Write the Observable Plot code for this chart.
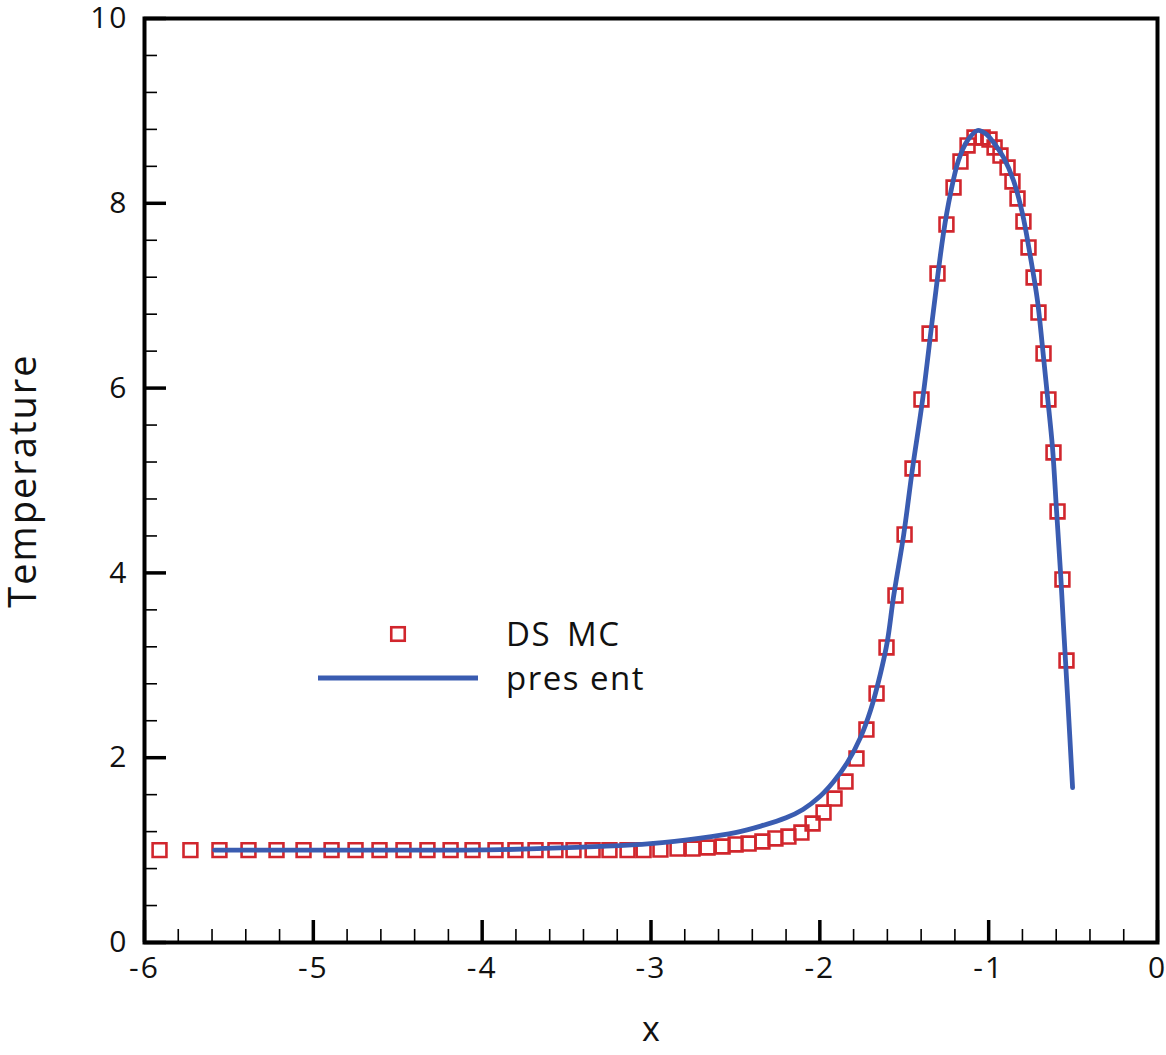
<!DOCTYPE html>
<html>
<head>
<meta charset="utf-8">
<script src="https://cdn.jsdelivr.net/npm/d3@7"></script>
<script src="https://cdn.jsdelivr.net/npm/@observablehq/plot@0.6"></script>
<style>
  html, body { margin: 0; padding: 0; background: #fff; }
  #chart svg { display: block; overflow: visible; font-family: "Open Sans", sans-serif; }
</style>
</head>
<body>
<div id="chart"></div>
<script>
// DSMC temperature samples (symbols)
const dsmcX = [
  -5.911, -5.728, -5.556, -5.384, -5.218, -5.058, -4.892, -4.750, -4.608, -4.466,
  -4.324, -4.187, -4.057, -3.921, -3.803, -3.684, -3.566, -3.459, -3.346, -3.246,
  -3.139, -3.044, -2.944, -2.843, -2.754, -2.665, -2.576, -2.499, -2.422, -2.340,
  -2.263, -2.186, -2.109, -2.043, -1.978, -1.913, -1.848, -1.783, -1.724, -1.664,
  -1.605, -1.552, -1.498, -1.451, -1.398, -1.350, -1.303, -1.250, -1.208, -1.167,
  -1.125, -1.084, -1.036, -0.995, -0.965, -0.930, -0.888, -0.859, -0.829, -0.794,
  -0.764, -0.734, -0.705, -0.675, -0.646, -0.616, -0.592, -0.563, -0.539
];
const dsmcT = [
  1.00, 1.00, 1.00, 1.00, 1.00, 1.00, 1.00, 1.00, 1.00, 1.00,
  1.00, 1.00, 1.00, 1.00, 1.00, 1.00, 1.00, 1.00, 1.00, 1.00,
  1.00, 1.00, 1.006, 1.017, 1.017, 1.028, 1.039, 1.061, 1.071, 1.093,
  1.126, 1.147, 1.190, 1.288, 1.407, 1.558, 1.742, 1.991, 2.305, 2.695,
  3.193, 3.755, 4.416, 5.130, 5.877, 6.591, 7.240, 7.771, 8.171, 8.452,
  8.626, 8.712, 8.712, 8.690, 8.604, 8.517, 8.387, 8.236, 8.052, 7.803,
  7.522, 7.197, 6.818, 6.374, 5.877, 5.303, 4.665, 3.929, 3.052
];

// present method (solid line)
const presentX = [
  -5.585, -5.076, -4.484, -3.891, -3.299, -3.003, -2.707, -2.500, -2.350, -2.200,
  -2.100, -2.000, -1.919, -1.836, -1.759, -1.700, -1.641, -1.600, -1.564, -1.504,
  -1.451, -1.392, -1.327, -1.268, -1.226, -1.179, -1.125, -1.066, -1.019, -0.971,
  -0.912, -0.853, -0.800, -0.752, -0.711, -0.681, -0.651, -0.622, -0.598, -0.574,
  -0.557, -0.533, -0.503
];
const presentT = [
  1.00, 1.00, 1.00, 1.005, 1.04, 1.07, 1.13, 1.19, 1.26, 1.35,
  1.44, 1.58, 1.74, 1.95, 2.22, 2.51, 2.91, 3.26, 3.734, 4.405,
  5.130, 5.866, 6.840, 7.673, 8.106, 8.463, 8.680, 8.788, 8.755, 8.658,
  8.496, 8.247, 7.890, 7.413, 6.948, 6.439, 5.898, 5.357, 4.675, 3.994,
  3.431, 2.673, 1.677
];

// axis ticks
const xMajor = [-6, -5, -4, -3, -2, -1, 0];
const xMinor = d3.range(-6, 0.001, 0.2).map(v => +v.toFixed(1)).filter(v => !xMajor.includes(v));
const yMajor = [0, 2, 4, 6, 8, 10];
const yMinor = d3.range(0, 10.001, 0.4).map(v => +v.toFixed(1)).filter(v => !yMajor.includes(v));

const seriesNames = ["DS MC", "pres ent"];
const redColor = "#d1262d";
const blueColor = "#3a5cb1";

const dsmc = dsmcX.map((x, i) => ({x, T: dsmcT[i]}));
const present = presentX.map((x, i) => ({x, T: presentT[i]}));

const fontFamily = "'Open Sans', sans-serif";

const chart = Plot.plot({
  width: 1166,
  height: 1055,
  marginLeft: 144,
  marginRight: 9,
  marginTop: 18,
  marginBottom: 113,
  style: {fontFamily, background: "#fff", overflow: "visible"},
  x: {domain: [-6, 0]},
  y: {domain: [0, 10]},
  marks: [
    // minor ticks pointing into the frame
    Plot.axisX({ticks: xMinor, tickSize: -13, strokeWidth: 1.6, tickFormat: () => "", anchor: "bottom", label: null}),
    Plot.axisY({ticks: yMinor, tickSize: -13, strokeWidth: 1.6, tickFormat: () => "", anchor: "left", label: null}),
    // major ticks pointing into the frame
    Plot.axisX({ticks: xMajor, tickSize: -22, strokeWidth: 3.5, tickFormat: () => "", anchor: "bottom", label: null}),
    Plot.axisY({ticks: yMajor, tickSize: -22, strokeWidth: 3.5, tickFormat: () => "", anchor: "left", label: null}),
    // tick labels
    Plot.axisX({ticks: xMajor, tickSize: 0, tickPadding: 14, tickFormat: d => String(d),
      fontSize: 30, fill: "#111", anchor: "bottom", label: null, className: "ticklab"}),
    Plot.axisY({ticks: yMajor, tickSize: 0, tickPadding: 16, tickFormat: d => String(d),
      fontSize: 30, fill: "#111", anchor: "left", label: null, className: "ticklab"}),
    // axis titles
    Plot.text(["x"], {frameAnchor: "bottom", dy: 88, fontSize: 34, fill: "#111", lineAnchor: "middle"}),
    Plot.text(["Temperature"], {frameAnchor: "left", dx: -121, rotate: -90, fontSize: 38,
      fill: "#111", lineAnchor: "middle", textAnchor: "middle", className: "ytitle"}),
    // data
    Plot.dot(dsmc, {x: "x", y: "T", symbol: "square", r: 7.8, stroke: redColor, strokeWidth: 2.6, fill: "none"}),
    Plot.line(present, {x: "x", y: "T", stroke: blueColor, strokeWidth: 4.8, curve: "catmull-rom"}),
    Plot.frame({stroke: "#000", strokeWidth: 4})
  ]
});

const svg = d3.select(chart);
svg.selectAll(".ticklab text").attr("letter-spacing", "2px");
svg.selectAll(".ytitle text").attr("letter-spacing", "2px");

// legend block inside the frame
const lg = svg.append("g").attr("font-family", fontFamily).attr("font-size", 33)
  .attr("fill", "#111").attr("text-anchor", "start").attr("letter-spacing", "1.5px");
const sq = 13.5;
lg.append("rect").attr("x", 398 - sq / 2).attr("y", 634 - sq / 2).attr("width", sq).attr("height", sq)
  .attr("fill", "none").attr("stroke", redColor).attr("stroke-width", 2.6);
lg.append("line").attr("x1", 318).attr("x2", 478).attr("y1", 678).attr("y2", 678)
  .attr("stroke", blueColor).attr("stroke-width", 4.8);
lg.append("text").attr("x", 506).attr("y", 634).attr("dy", "0.35em")
  .attr("word-spacing", "6px").text(seriesNames[0]);
lg.append("text").attr("x", 506).attr("y", 678).attr("dy", "0.35em").text(seriesNames[1]);

document.getElementById("chart").appendChild(chart);
</script>
</body>
</html>
